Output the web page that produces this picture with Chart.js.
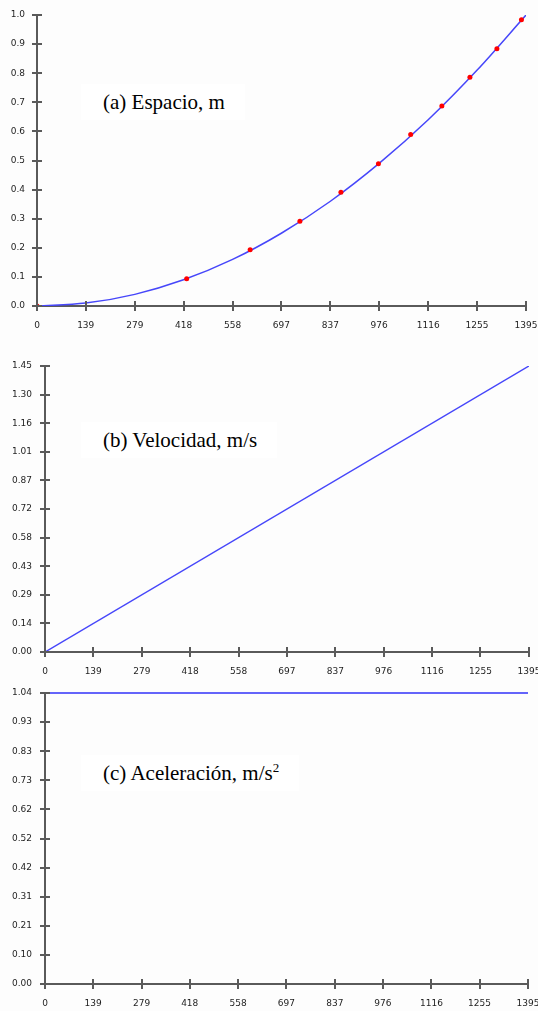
<!DOCTYPE html>
<html>
<head>
<meta charset="utf-8">
<script src="https://cdn.jsdelivr.net/npm/chart.js@4.4.1/dist/chart.umd.min.js"></script>
<style>
    html, body { margin: 0; padding: 0; background: #fdfdfd; }
    #page { position: relative; width: 538px; height: 1011px; overflow: hidden; }
    .box { position: absolute; left: 0; width: 538px; }
    .note {
        position: absolute;
        font-family: "Liberation Serif", "Times New Roman", serif;
        font-size: 21px;
        line-height: 24px;
        color: #000;
        background: #fff;
        padding: 6px 20px 6px 22px;
        white-space: nowrap;
    }
    .note sup { font-size: 13px; vertical-align: 8px; line-height: 0; }
</style>
</head>
<body>
<div id="page">
    <div class="box" style="top:0; height:340px;"><canvas id="chartSpace"></canvas></div>
    <div class="box" style="top:340px; height:344px;"><canvas id="chartVel"></canvas></div>
    <div class="box" style="top:684px; height:327px;"><canvas id="chartAcc"></canvas></div>
    <div class="note" style="left:81px; top:84px;">(a) Espacio, m</div>
    <div class="note" style="left:81px; top:422px;">(b) Velocidad, m/s</div>
    <div class="note" style="left:81px; top:755px;">(c) Aceleración, m/s<sup>2</sup></div>
</div>
<script>
// x axis (time) tick labels, shared by all three plots
const timeTicks = [0, 139, 279, 418, 558, 697, 837, 976, 1116, 1255, 1395];

// y axis tick labels
const spaceTicks = ['0.0', '0.1', '0.2', '0.3', '0.4', '0.5', '0.6', '0.7', '0.8', '0.9', '1.0'];
const velTicks = ['0.00', '0.14', '0.29', '0.43', '0.58', '0.72', '0.87', '1.01', '1.16', '1.30', '1.45'];
const accTicks = ['0.00', '0.10', '0.21', '0.31', '0.42', '0.52', '0.62', '0.73', '0.83', '0.93', '1.04'];

// measured points (red dots) in plot (a)
const measuredTimes = [0, 427, 608, 750, 867, 974, 1066, 1155, 1235, 1312, 1382];
const measuredSpace = [0, 0.094, 0.193, 0.291, 0.391, 0.489, 0.589, 0.687, 0.786, 0.884, 0.984];

// fitted curve in plot (a)
const fitTimes = [0, 139, 279, 418, 558, 697, 837, 976, 1116, 1255, 1395];
const fitSpace = [0, 0.01, 0.04, 0.09, 0.16, 0.25, 0.36, 0.49, 0.64, 0.81, 1.0];

// velocity and acceleration lines
const velTimes = [0, 1395];
const velValues = [0, 1.45];
const accTimes = [0, 1395];
const accValues = [1.04, 1.04];

const AXIS_COLOR = '#5a5a5a';
const LABEL_COLOR = '#1e1e1e';
const LABEL_FONT = { family: 'DejaVu Sans', size: 9 };
const BLUE = 'rgb(70, 70, 250)';

function toPoints(xs, ys) {
    return xs.map((x, i) => ({ x: x, y: ys[i] }));
}

// tick marks that also reach a few pixels into the plot
const innerTicks = {
    id: 'innerTicks',
    afterDatasetsDraw(chart) {
        const ctx = chart.ctx;
        const xs = chart.scales.x;
        const ys = chart.scales.y;
        const area = chart.chartArea;
        ctx.save();
        ctx.strokeStyle = AXIS_COLOR;
        ctx.lineWidth = 2;
        ctx.beginPath();
        xs.ticks.forEach(t => {
            const px = Math.round(xs.getPixelForValue(t.value));
            ctx.moveTo(px, area.bottom);
            ctx.lineTo(px, area.bottom - 5);
        });
        ys.ticks.forEach(t => {
            const py = Math.round(ys.getPixelForValue(t.value));
            ctx.moveTo(area.left, py);
            ctx.lineTo(area.left + 5, py);
        });
        ctx.stroke();
        ctx.restore();
    }
};

function makePlot(canvasId, datasets, yLabels, box) {
    const yMax = parseFloat(yLabels[yLabels.length - 1]);
    return new Chart(document.getElementById(canvasId), {
        type: 'line',
        data: { datasets: datasets },
        options: {
            responsive: true,
            maintainAspectRatio: false,
            animation: false,
            events: [],
            layout: {
                autoPadding: false,
                padding: { top: box.top, right: box.right, left: 0, bottom: 0 }
            },
            plugins: {
                legend: { display: false },
                tooltip: { enabled: false }
            },
            scales: {
                x: {
                    type: 'linear',
                    min: 0,
                    max: timeTicks[timeTicks.length - 1],
                    afterBuildTicks: scale => {
                        scale.ticks = timeTicks.map(v => ({ value: v }));
                    },
                    afterFit: scale => {
                        scale.height = box.xHeight;
                        scale.paddingLeft = 0;
                        scale.paddingRight = 0;
                    },
                    border: { color: AXIS_COLOR, width: 2 },
                    grid: { drawOnChartArea: false, tickLength: 5, color: AXIS_COLOR, lineWidth: 2 },
                    ticks: {
                        autoSkip: false,
                        maxRotation: 0,
                        padding: 9,
                        color: LABEL_COLOR,
                        font: LABEL_FONT,
                        callback: (v, i) => String(timeTicks[i])
                    }
                },
                y: {
                    type: 'linear',
                    min: 0,
                    max: yMax,
                    afterBuildTicks: scale => {
                        const n = yLabels.length;
                        scale.ticks = yLabels.map((l, i) => ({ value: yMax * i / (n - 1) }));
                    },
                    afterFit: scale => {
                        scale.width = box.left;
                        scale.paddingTop = 0;
                        scale.paddingBottom = 0;
                    },
                    border: { color: AXIS_COLOR, width: 2 },
                    grid: { drawOnChartArea: false, tickLength: 5, color: AXIS_COLOR, lineWidth: 2 },
                    ticks: {
                        autoSkip: false,
                        padding: box.yPad,
                        color: LABEL_COLOR,
                        font: LABEL_FONT,
                        callback: (v, i) => yLabels[i]
                    }
                }
            }
        },
        plugins: [innerTicks]
    });
}

makePlot('chartSpace', [
    {
        data: toPoints(measuredTimes, measuredSpace),
        showLine: false,
        pointRadius: 2.5,
        pointBorderWidth: 0,
        pointBackgroundColor: '#ff0000',
        pointBorderColor: '#ff0000'
    },
    {
        data: toPoints(fitTimes, fitSpace),
        borderColor: BLUE,
        borderWidth: 1.5,
        pointRadius: 0,
        cubicInterpolationMode: 'monotone',
        fill: false
    }
], spaceTicks, { top: 15, right: 12, left: 37, xHeight: 34, yPad: 7 });

makePlot('chartVel', [
    {
        data: toPoints(velTimes, velValues),
        borderColor: BLUE,
        borderWidth: 1.5,
        pointRadius: 0,
        fill: false
    }
], velTicks, { top: 26, right: 9, left: 45, xHeight: 32, yPad: 8 });

makePlot('chartAcc', [
    {
        data: toPoints(accTimes, accValues),
        borderColor: 'rgb(100, 100, 250)',
        borderWidth: 2,
        pointRadius: 0,
        fill: false,
        clip: 4
    }
], accTicks, { top: 9, right: 10, left: 45, xHeight: 27, yPad: 8 });
</script>
</body>
</html>
